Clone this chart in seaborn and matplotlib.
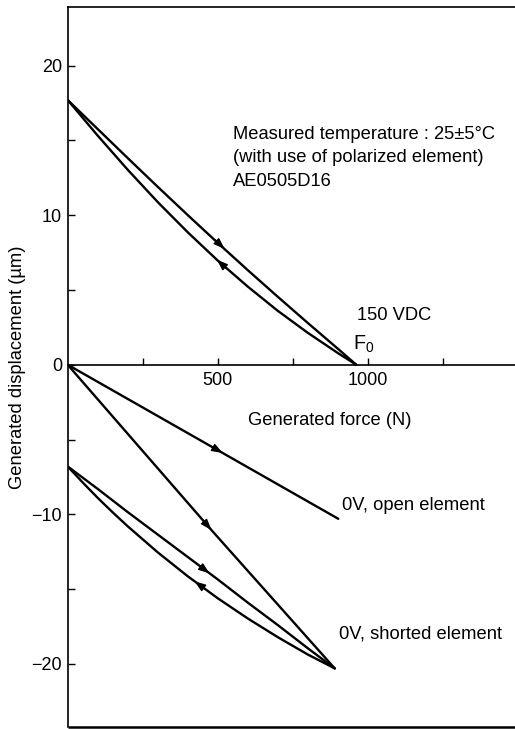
import matplotlib
matplotlib.use("Agg")
import matplotlib.pyplot as plt
import seaborn as sns
import pandas as pd

# ---- data ----
vdc_load_x = [0, 100, 200, 300, 400, 500, 600, 700, 800, 900, 962]
vdc_load_y = [17.7, 15.76, 13.82, 11.9, 10.01, 8.15, 6.33, 4.55, 2.8, 1.08, 0.0]
vdc_unload_x = [0, 50, 100, 150, 200, 300, 400, 500, 600, 700, 800, 900, 962]
vdc_unload_y = [17.7, 16.51, 15.32, 14.18, 13.04, 10.88, 8.86, 6.97, 5.23, 3.61, 2.14, 0.79, 0.0]

open_x = [0, 902]
open_y = [0.0, -10.3]

short_first_x = [0, 479, 890]
short_first_y = [0.0, -11.05, -20.3]

short_load_x = [0, 100, 200, 300, 400, 500, 600, 700, 800, 890]
short_load_y = [-6.8, -8.3, -9.85, -11.35, -12.85, -14.35, -15.9, -17.4, -18.95, -20.3]
short_unload_x = [0, 50, 100, 150, 200, 300, 400, 500, 600, 700, 800, 890]
short_unload_y = [-6.8, -7.87, -8.9, -9.87, -10.8, -12.54, -14.14, -15.61, -16.96, -18.21, -19.37, -20.3]

x_major = [500, 1000]
x_minor = [250, 750, 1250]
y_major = [-20, -10, 0, 10, 20]
y_minor = [-15, -5, 5, 15]

note_lines = ["Measured temperature : 25±5°C",
              "(with use of polarized element)",
              "AE0505D16"]

sns.set_theme(style="ticks")
plt.rcParams['font.family'] = ['Liberation Sans', 'DejaVu Sans']
plt.rcParams['mathtext.fontset'] = 'custom'
plt.rcParams['mathtext.rm'] = 'Liberation Sans'
plt.rcParams['text.color'] = 'black'
plt.rcParams['axes.labelcolor'] = 'black'

fig = plt.figure(figsize=(5.15, 7.29), dpi=100)
ax = fig.add_axes([67.7 / 515, 2.3 / 729, 450 / 515, 719.4 / 729])

curves = [
    (vdc_load_x, vdc_load_y),
    (vdc_unload_x, vdc_unload_y),
    (open_x, open_y),
    (short_first_x, short_first_y),
    (short_load_x, short_load_y),
    (short_unload_x, short_unload_y),
]
for cx, cy in curves:
    df = pd.DataFrame({"force": cx, "disp": cy})
    sns.lineplot(data=df, x="force", y="disp", sort=False, color="black",
                 lw=1.7, ax=ax, estimator=None)

ax.set_xlim(0, 1500)
ax.set_ylim(-24.2, 23.9)

# arrows (direction along each curve)
arrows = [
    ((523, 7.75), (490, 8.37)),
    ((497, 7.03), (530, 6.42)),
    ((517, -5.9), (480, -5.48)),
    ((479, -11.05), (450, -10.38)),
    ((473, -13.95), (440, -13.45)),
    ((423, -14.48), (456, -14.96)),
]
for tip, tail in arrows:
    ax.annotate("", xy=tip, xytext=tail,
                arrowprops=dict(arrowstyle="-|>,head_length=0.55,head_width=0.2",
                                color="black", lw=1.0, shrinkA=0, shrinkB=0))

# axes styling
ax.spines['bottom'].set_position(('data', 0))
ax.spines['right'].set_visible(False)
for s in ['left', 'top', 'bottom']:
    ax.spines[s].set_linewidth(1.2)
    ax.spines[s].set_color('black')
ax.plot([0, 1], [0, 0], transform=ax.transAxes, color='black', lw=1.8,
        clip_on=False, solid_capstyle='butt')

fs = 13.2
ax.set_xticks(x_major)
ax.set_xticks(x_minor, minor=True)
ax.set_yticks(y_major)
ax.set_yticks(y_minor, minor=True)
ax.tick_params(axis='both', which='both', direction='in', length=5, width=1.0,
               color='black', labelsize=13, labelcolor='black')
ax.tick_params(axis='x', which='major', pad=5.0)
ax.tick_params(axis='y', which='major', pad=4.0)
ax.set_xlabel("")
ax.set_ylabel("Generated displacement (µm)", fontsize=fs, color='black', labelpad=4)

ax.text(552, 15.09, note_lines[0], fontsize=fs, va='baseline', ha='left')
ax.text(552, 13.57, note_lines[1], fontsize=fs, va='baseline', ha='left')
ax.text(552, 11.97, note_lines[2], fontsize=fs, va='baseline', ha='left')
ax.text(963, 3.0, "150 VDC", fontsize=fs, va='baseline', ha='left')
ax.text(950, 1.0, r"$\mathregular{F_0}$", fontsize=fs + 1, va='baseline', ha='left')
ax.text(874, -4.0, "Generated force (N)", fontsize=fs, va='baseline', ha='center')
ax.text(915, -9.7, "0V, open element", fontsize=fs, va='baseline', ha='left')
ax.text(905, -18.33, "0V, shorted element", fontsize=fs, va='baseline', ha='left')

fig.savefig("out.png", dpi=100, facecolor='white')
